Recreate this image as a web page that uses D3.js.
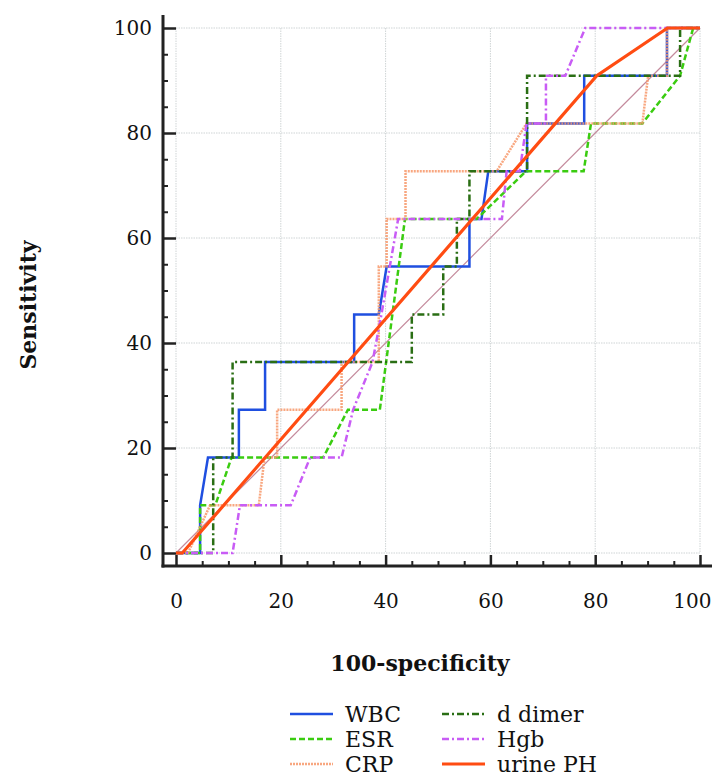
<!DOCTYPE html>
<meta charset="utf-8">
<style>
    html, body { margin: 0; padding: 0; background: #fff; }
    svg { display: block; font-family: "DejaVu Serif", serif; }
</style>
<svg id="chart" width="713" height="784"></svg>
<script src="https://d3js.org/d3.v7.min.js"></script>
<script>
    // ROC curves: x = 100-specificity, y = sensitivity
    const wbcX = [0, 4.6, 4.6, 6.1, 12.0, 12.0, 17.0, 17.0, 34.0, 34.0, 38.7, 40.2, 56.0, 56.0, 58.3, 59.6, 67.0, 67.0, 77.9, 77.9, 93.7, 93.7, 100];
    const wbcY = [0, 0, 9.09, 18.18, 18.18, 27.27, 27.27, 36.36, 36.36, 45.45, 45.45, 54.55, 54.55, 63.64, 63.64, 72.73, 72.73, 81.82, 81.82, 90.91, 90.91, 100, 100];

    const esrX = [0, 4.6, 4.6, 7.5, 10.6, 28.1, 32.8, 38.9, 43.7, 57.4, 66.8, 77.8, 79.2, 89.0, 96.2, 98.7, 100];
    const esrY = [0, 0, 9.09, 9.09, 18.18, 18.18, 27.27, 27.27, 63.64, 63.64, 72.73, 72.73, 81.82, 81.82, 90.91, 100, 100];

    const crpX = [0, 2.3, 6.5, 15.8, 16.9, 19.3, 19.3, 31.6, 31.6, 38.7, 38.7, 40.2, 40.2, 43.8, 43.8, 61.2, 66.9, 89.0, 90.1, 93.7, 93.7, 100];
    const crpY = [0, 0, 9.09, 9.09, 18.18, 18.18, 27.27, 27.27, 36.36, 36.36, 54.55, 54.55, 63.64, 63.64, 72.73, 72.73, 81.82, 81.82, 90.91, 90.91, 100, 100];

    const ddimerX = [0, 7.1, 7.1, 10.8, 10.8, 45.0, 45.0, 51.0, 51.0, 53.6, 53.6, 56.0, 56.0, 67.0, 67.0, 96.2, 96.2, 100];
    const ddimerY = [0, 0, 18.18, 18.18, 36.36, 36.36, 45.45, 45.45, 54.55, 54.55, 63.64, 63.64, 72.73, 72.73, 90.91, 90.91, 100, 100];

    const hgbX = [0, 10.8, 12.2, 21.9, 25.6, 31.6, 33.8, 37.5, 39.2, 40.8, 42.4, 62.2, 63.1, 65.6, 66.9, 70.6, 70.6, 74.3, 78.1, 100];
    const hgbY = [0, 0, 9.09, 9.09, 18.18, 18.18, 27.27, 36.36, 45.45, 54.55, 63.64, 63.64, 72.73, 72.73, 81.82, 81.82, 90.91, 90.91, 100, 100];

    const phX = [0, 1.2, 80.3, 93.8, 100];
    const phY = [0, 0, 90.91, 100, 100];

    const majorTicks = [0, 20, 40, 60, 80, 100];
    const minorTicks = d3.range(0, 101, 5).filter(d => d % 20 !== 0);

    const series = [
        {name: "WBC", xs: wbcX, ys: wbcY, color: "#1f4fe0", width: 2.5, dash: null, opacity: 1},
        {name: "ESR", xs: esrX, ys: esrY, color: "#3acc10", width: 2.5, dash: "6,3", opacity: 1},
        {name: "CRP", xs: crpX, ys: crpY, color: "#f7986a", width: 2.5, dash: "2,1", opacity: 0.85},
        {name: "d dimer", xs: ddimerX, ys: ddimerY, color: "#2a6e14", width: 2.5, dash: "7,3,2,3", opacity: 1},
        {name: "Hgb", xs: hgbX, ys: hgbY, color: "#c85cf5", width: 2.5, dash: "7,3,2,3", opacity: 1},
        {name: "urine PH", xs: phX, ys: phY, color: "#ff4c12", width: 3.2, dash: null, opacity: 1}
    ];

    const svg = d3.select("#chart");

    const x = d3.scaleLinear().domain([0, 100]).range([176, 700]);
    const y = d3.scaleLinear().domain([0, 100]).range([553, 28]);

    const axisLeftX = 163, axisBottomY = 566;

    // grid
    const grid = svg.append("g").attr("stroke", "#cfd4d5").attr("stroke-width", 1).attr("stroke-dasharray", "1.5,1");
    grid.selectAll(".gx").data(majorTicks).join("line")
        .attr("x1", d => x(d)).attr("x2", d => x(d))
        .attr("y1", y(100)).attr("y2", y(0));
    grid.selectAll(".gy").data(majorTicks).join("line")
        .attr("y1", d => y(d)).attr("y2", d => y(d))
        .attr("x1", x(0)).attr("x2", x(100));

    // y axis
    const yAxis = svg.append("g").attr("transform", `translate(${axisLeftX},0)`)
        .call(d3.axisLeft(y).tickValues(majorTicks).tickSize(-13).tickPadding(11));
    yAxis.select(".domain").remove();
    yAxis.selectAll(".tick line").attr("stroke", "#222").attr("stroke-width", 2.5);
    yAxis.selectAll("text").attr("font-size", 20).attr("fill", "#111").attr("font-family", "DejaVu Serif");

    const yMinor = svg.append("g").attr("transform", `translate(${axisLeftX},0)`)
        .call(d3.axisLeft(y).tickValues(minorTicks).tickSize(-5).tickFormat(""));
    yMinor.select(".domain").remove();
    yMinor.selectAll(".tick line").attr("stroke", "#222").attr("stroke-width", 2);

    // x axis
    const xAxis = svg.append("g").attr("transform", `translate(0,${axisBottomY})`)
        .call(d3.axisBottom(x).tickValues(majorTicks).tickSize(-11).tickPadding(28));
    xAxis.select(".domain").remove();
    xAxis.selectAll(".tick line").attr("stroke", "#222").attr("stroke-width", 2.5);
    xAxis.selectAll("text").attr("font-size", 20).attr("fill", "#111").attr("font-family", "DejaVu Serif");
    xAxis.selectAll(".tick").filter(d => d === 100).select("text")
        .attr("text-anchor", "end").attr("x", 711 - x(100));

    const xMinor = svg.append("g").attr("transform", `translate(0,${axisBottomY})`)
        .call(d3.axisBottom(x).tickValues(minorTicks).tickSize(-5).tickFormat(""));
    xMinor.select(".domain").remove();
    xMinor.selectAll(".tick line").attr("stroke", "#222").attr("stroke-width", 2);

    svg.append("line").attr("x1", axisLeftX).attr("x2", axisLeftX).attr("y1", 15).attr("y2", axisBottomY + 1.5)
        .attr("stroke", "#222").attr("stroke-width", 3);
    svg.append("line").attr("x1", axisLeftX - 1.5).attr("x2", 712).attr("y1", axisBottomY).attr("y2", axisBottomY)
        .attr("stroke", "#222").attr("stroke-width", 3);

    // axis titles
    svg.append("text").attr("x", 420).attr("y", 671).attr("text-anchor", "middle")
        .attr("font-size", 22).attr("font-weight", "bold").attr("fill", "#111").text("100-specificity");
    svg.append("text").attr("transform", "translate(36,305) rotate(-90)").attr("text-anchor", "middle")
        .attr("font-size", 22).attr("font-weight", "bold").attr("fill", "#111").text("Sensitivity");

    // reference diagonal
    svg.append("line").attr("x1", x(0)).attr("y1", y(0)).attr("x2", x(100)).attr("y2", y(100))
        .attr("stroke", "#c48a9c").attr("stroke-width", 1.2);

    const line = d3.line().x(d => x(d[0])).y(d => y(d[1]));
    svg.append("g").selectAll("path").data(series).join("path")
        .attr("d", s => line(s.xs.map((v, i) => [v, s.ys[i]])))
        .attr("fill", "none")
        .attr("stroke", s => s.color)
        .attr("stroke-width", s => s.width)
        .attr("stroke-dasharray", s => s.dash)
        .attr("stroke-opacity", s => s.opacity);

    // legend: two columns, three rows
    const legend = svg.append("g");
    const item = legend.selectAll("g").data(series).join("g")
        .attr("transform", (s, i) => `translate(${i < 3 ? 290 : 442},${714 + (i % 3) * 25})`);
    item.append("line").attr("x1", 0).attr("x2", 43).attr("y1", 0).attr("y2", 0)
        .attr("stroke", s => s.color)
        .attr("stroke-width", s => s.width)
        .attr("stroke-dasharray", s => s.dash)
        .attr("stroke-opacity", s => s.opacity);
    item.append("text").attr("x", 55).attr("y", 7.5).attr("font-size", 22).attr("fill", "#111")
        .text(s => s.name);
</script>
